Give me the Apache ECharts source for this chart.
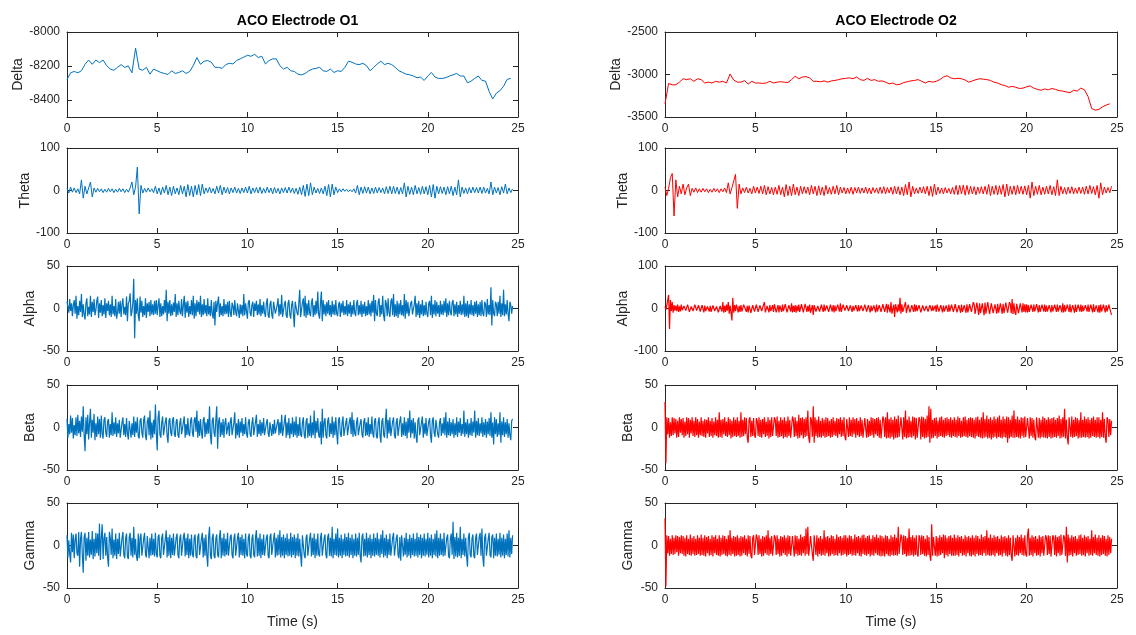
<!DOCTYPE html>
<html>
<head>
<meta charset="utf-8">
<script src="https://cdn.jsdelivr.net/npm/echarts@6/dist/echarts.min.js"></script>
<style>
html,body{margin:0;padding:0;background:#ffffff;}
#chart{width:1136px;height:635px;}
</style>
</head>
<body>
<div id="chart"></div>
<script>
// Sampling steps (seconds between stored samples)
const deltaStep = 0.2;
const thetaStep = 0.1;
const denseStep = 0.05;

const electrodeTitles = ['ACO Electrode O1', 'ACO Electrode O2'];
const bandNames = ['Delta', 'Theta', 'Alpha', 'Beta', 'Gamma'];
const timeTicks = [0, 5, 10, 15, 20, 25];

// Tick labels per panel
const deltaO1Ticks = [-8400, -8200, -8000];
const deltaO2Ticks = [-3500, -3000, -2500];
const ticks100 = [-100, 0, 100];
const ticks50 = [-50, 0, 50];

// ---- Electrode O1 ----
const deltaO1 = [
  -8280,-8240,-8232,-8240,-8228,-8190,-8165,-8190,-8165,-8180,
  -8165,-8198,-8218,-8225,-8208,-8192,-8208,-8200,-8240,-8095,
  -8218,-8225,-8208,-8248,-8218,-8228,-8238,-8244,-8250,-8228,
  -8244,-8238,-8228,-8244,-8232,-8198,-8150,-8190,-8172,-8168,
  -8178,-8208,-8208,-8214,-8192,-8184,-8188,-8168,-8158,-8148,
  -8137,-8143,-8131,-8150,-8143,-8188,-8168,-8158,-8158,-8198,
  -8218,-8208,-8228,-8232,-8248,-8252,-8244,-8228,-8218,-8214,
  -8208,-8228,-8232,-8218,-8238,-8228,-8232,-8208,-8172,-8178,
  -8188,-8192,-8184,-8198,-8228,-8208,-8188,-8172,-8192,-8184,
  -8192,-8208,-8228,-8238,-8248,-8252,-8259,-8269,-8265,-8285,
  -8259,-8238,-8265,-8273,-8273,-8269,-8259,-8252,-8244,-8259,
  -8259,-8299,-8289,-8273,-8259,-8285,-8289,-8350,-8394,-8360,
  -8345,-8319,-8279,-8273
];
const thetaO1 = [
  5,-6,8,-4,6,-5,4,-8,25,-18,
  10,-8,6,20,-15,6,-4,5,-3,4,
  -5,3,-4,5,-3,4,-5,3,-4,5,
  -3,4,-5,3,-4,6,20,-10,8,55,
  -55,12,-6,5,-4,6,-3,4,-5,10,
  -8,6,-10,8,-6,12,-10,8,-12,10,
  -8,6,-10,12,-8,10,-15,14,-12,10,
  -15,12,-10,14,-12,15,-8,6,-5,8,
  -6,5,-8,10,-6,12,-10,8,-6,7,
  -8,6,-5,8,-6,5,-7,6,-5,8,
  -6,10,-8,6,-5,7,-6,8,-7,5,
  -6,8,-5,6,-8,7,-6,5,-8,6,
  -5,7,-6,8,-5,6,-7,5,-9,8,
  -10,12,-14,15,-12,18,-10,8,-6,5,
  -7,6,-8,10,-12,14,-15,15,-10,8,
  -5,4,-3,4,-2,3,-3,2,-3,4,
  -6,12,-10,8,-7,9,-6,8,-8,6,
  -7,8,-6,7,-5,6,-8,9,-7,10,
  -8,10,-7,8,-9,7,-8,18,-15,10,
  -9,8,-10,12,-8,7,-9,10,-8,9,
  -10,12,-15,14,-18,10,-8,9,-7,8,
  -10,9,-8,10,-12,8,-10,25,-15,8,
  -7,6,-8,7,-6,8,-5,7,-6,8,
  -7,8,-6,5,-8,20,-10,8,-6,7,
  -10,9,-6,15,-8,6,-5,4
];
const alphaO1 = [
  8,2,-5,11,-3,6,-9,4,10,-6,15,-12,3,-8,9,-4,17,-10,5,-7,
  -13,6,12,-9,2,-7,15,-10,8,-4,11,-8,-2,9,14,-11,6,-5,10,-9,
  4,-7,12,-11,6,-3,9,-8,5,-10,15,-7,3,-9,11,-12,-5,8,-6,9,
  -10,5,12,-7,2,-8,14,-15,6,9,18,-9,-4,7,35,-35,10,-6,12,-8,
  -15,14,-5,9,-10,3,-8,12,-11,6,-4,8,-9,10,-7,5,-8,9,-6,10,
  -8,4,12,-10,6,-9,3,-7,10,-5,22,-15,8,-6,10,-9,5,-8,7,-4,
  17,-10,6,-8,9,-3,-7,11,-9,4,15,-11,8,-5,9,-10,3,-7,10,-8,
  15,-12,6,-9,10,-4,8,-7,15,-10,5,-8,11,-6,4,-9,12,-7,3,-9,
  10,-6,-12,8,-20,9,-4,7,14,-10,6,-8,3,-9,11,-7,5,-6,8,-10,
  9,-5,-10,7,3,-8,10,-4,-9,6,8,-11,5,-7,4,-9,17,-8,6,-3,
  -12,7,10,-5,-9,4,8,-10,6,-3,9,-8,5,-7,11,-9,4,-6,8,-5,
  -10,6,12,-8,-11,5,9,-7,-12,8,10,-6,-8,4,12,-9,5,-7,16,-10,
  -10,5,9,-8,-11,6,10,-7,-12,4,9,-6,-22,8,10,-5,-8,6,22,-10,
  -10,7,12,-9,15,-11,6,-8,10,-5,-9,7,12,-10,4,-8,9,-6,20,-7,
  -12,6,20,-15,10,-7,5,-9,8,-6,10,-8,4,-10,9,-7,5,-8,10,-6,
  -9,4,8,-10,6,-5,9,-8,3,-7,10,-9,5,-6,8,-10,4,-7,10,-5,
  -9,6,10,-8,4,-7,9,-10,5,-6,8,-9,3,-8,10,-7,6,-9,9,-5,
  16,-15,10,-6,-9,8,12,-10,4,-7,15,-8,-15,10,6,-9,12,-5,-10,8,
  12,-8,17,-10,5,-9,9,-11,6,-7,10,-8,4,-9,17,-12,10,-6,8,-9,
  -10,6,9,-7,-8,5,15,-10,6,-8,9,-11,5,-7,10,-9,4,-8,8,-6,
  -10,6,9,-8,15,-11,5,-7,10,-9,8,-6,4,-10,9,-7,5,-8,9,-5,
  12,-10,6,-8,9,-4,-8,7,10,-9,5,-7,8,-10,4,-6,9,-8,5,-7,
  15,-10,6,-9,9,-11,5,-7,10,-8,4,-9,8,-6,9,-10,5,-8,8,-9,
  10,-6,-9,8,5,-10,11,-7,4,-8,25,-20,10,-6,-9,8,5,-9,8,-6,
  15,-10,6,-8,22,-9,5,-7,10,-6,-15,8,4,-6,3
];
const betaO1 = [
  10,-12,4,-8,14,-6,11,-13,3,-9,12,-10,15,-7,8,-11,13,-5,25,-9,
  -28,12,-8,15,-14,6,22,-12,9,-6,16,-15,5,-11,13,-8,10,-12,14,-7,
  -13,9,12,-6,-11,7,10,-12,4,-9,18,-10,6,-8,12,-11,5,-7,9,-12,
  -10,6,12,-9,4,-11,11,-7,-14,8,10,-12,5,-9,13,-11,7,-6,12,-10,
  -13,8,11,-6,-12,9,14,-10,-15,7,12,-9,20,-14,6,-12,9,-8,27,-6,
  -27,12,20,-8,-12,6,13,-9,-11,7,12,-10,-18,8,11,-6,-10,9,12,-8,
  -11,7,10,-9,-12,5,11,-8,-10,6,13,-12,4,-9,11,-7,-10,8,12,-6,
  -11,9,12,-5,20,-12,8,-10,10,-6,-13,9,12,-11,6,-8,10,-7,25,-9,
  -20,8,12,-6,-11,9,25,-25,7,12,-11,6,-9,10,-12,5,11,-8,-10,6,
  -10,7,12,-9,-11,6,18,-13,5,-9,10,-12,7,-6,11,-10,4,-8,12,-7,
  -12,6,10,-8,-11,5,12,-9,-10,7,15,-11,4,-8,9,-10,6,-7,11,-9,
  -9,5,10,-7,-11,6,8,-10,4,-8,9,-7,-8,5,10,-9,6,-7,15,-10,
  -10,7,15,-12,6,-9,11,-13,5,-8,12,-11,7,-9,13,-12,4,-10,12,-8,
  -11,6,12,-9,-13,7,11,-12,5,-10,14,-12,6,-9,20,-13,8,-6,11,-9,
  -12,7,-20,22,-12,6,11,-9,-13,8,12,-11,5,-8,13,-12,7,-9,12,-6,
  -20,9,12,-7,-11,6,13,-10,-12,5,11,-9,-10,7,12,-8,18,-11,9,-7,
  -10,6,12,-9,-11,5,10,-8,-12,7,11,-10,6,-9,12,-11,4,-8,13,-7,
  -12,8,11,-10,-13,6,12,-9,-18,7,11,-8,-12,6,22,-13,9,-7,12,-10,
  -11,7,12,-9,-13,6,11,-10,-12,8,13,-11,5,-9,12,-10,7,-13,11,-6,
  20,-12,9,-7,11,-13,6,-10,-18,8,12,-9,-11,6,13,-12,5,-8,11,-10,
  -12,7,11,-9,-18,8,12,-6,-11,9,10,-8,-12,6,11,-10,5,-7,12,-9,
  18,-12,7,-9,11,-10,6,-8,10,-12,5,-9,12,-11,7,-6,11,-10,4,-8,
  20,-11,6,-8,10,-12,5,-9,11,-10,7,-6,20,-12,8,-9,11,-10,5,-7,
  12,-11,6,-9,10,-12,7,-8,11,-10,18,-12,6,-20,12,-8,10,-11,5,-9,
  18,-18,7,-9,12,-11,6,-8,10,-12,5,-9,-15,8,10
];
const gammaO1 = [
  12,-14,6,-10,-20,15,-8,13,-15,7,14,-9,-12,16,-25,8,16,-11,-32,10,
  15,-18,9,-12,16,-14,7,-11,17,-16,8,-13,15,-9,14,-12,26,-17,9,25,
  -16,8,15,-12,10,-14,-25,16,9,-11,20,-15,7,-12,14,-16,8,-10,15,-13,
  -14,9,16,-11,-15,8,14,-13,-16,10,15,-12,9,-14,22,-11,8,-13,-18,14,
  -15,9,14,-12,-13,8,15,-10,-14,11,13,-15,9,-12,14,-11,8,-13,15,-10,
  -14,10,13,-12,-15,9,14,-11,-13,8,18,-14,10,-12,13,-15,9,-11,14,-12,
  -13,9,14,-11,-15,8,13,-12,-14,10,15,-13,9,-11,14,-15,8,-12,13,-10,
  -14,9,13,-12,-15,10,14,-11,-13,8,15,-14,9,-12,13,-11,-25,10,22,-12,
  -16,9,14,-12,-15,8,13,-11,-14,10,18,-15,9,-12,14,-13,8,-11,15,-12,
  -14,10,13,-11,-15,8,14,-12,-13,9,15,-14,10,-11,13,-12,8,-15,14,-10,
  -13,9,14,-12,-15,8,13,-11,-14,10,18,-13,9,-12,14,-15,8,-11,13,-12,
  -14,9,13,-12,-15,10,14,-11,-13,8,15,-14,9,-12,13,-11,18,-14,10,-12,
  13,-15,9,-11,14,-13,8,-12,15,-14,10,-11,13,-15,9,-12,14,-13,8,-11,
  -25,12,14,-11,-15,9,13,-12,-14,8,15,-13,9,-11,14,-15,8,-12,14,-10,
  -13,9,15,-12,-14,8,13,-11,-15,10,14,-12,9,-13,22,-15,8,-11,14,-12,
  20,-14,9,-12,13,-15,8,-11,14,-13,10,-12,15,-14,9,-11,13,-15,8,-12,
  14,-13,9,-11,15,-12,-20,10,14,-13,8,-12,15,-14,9,-11,13,-15,8,-12,
  14,-13,9,-11,15,-12,8,-14,13,-10,18,-14,9,-12,13,-15,8,-11,14,-12,
  -13,9,15,-12,-14,8,13,-11,-15,10,-18,12,14,-13,9,-11,15,-14,8,-12,
  13,-15,9,-11,14,-13,8,-12,15,-14,10,-11,13,-15,9,-12,14,-13,8,-11,
  15,-14,9,-12,13,-15,8,-11,14,-13,18,-15,9,-12,14,-11,8,-13,15,-12,
  -14,9,13,-12,-15,8,14,-11,28,-16,10,-13,15,-14,9,-12,22,-15,8,-11,
  14,-13,9,-12,-25,10,15,-11,-14,8,13,-12,-15,9,14,-11,-13,10,15,-12,
  20,-14,-25,9,14,-12,-13,8,15,-11,-14,10,13,-15,9,-12,14,-13,8,-11,
  15,-14,9,-12,13,-15,8,-11,14,-13,18,-14,9,-10,12
];

// ---- Electrode O2 ----
const deltaO2 = [
  -3345,-3105,-3122,-3120,-3090,-3050,-3060,-3050,-3080,-3050,
  -3060,-3100,-3090,-3100,-3080,-3090,-3080,-3100,-2995,-3065,
  -3090,-3090,-3072,-3112,-3080,-3100,-3100,-3105,-3100,-3080,
  -3100,-3090,-3085,-3090,-3095,-3060,-3020,-3050,-3030,-3025,
  -3040,-3080,-3080,-3085,-3075,-3090,-3075,-3070,-3060,-3050,
  -3045,-3040,-3050,-3030,-3060,-3070,-3045,-3070,-3060,-3080,
  -3075,-3090,-3110,-3100,-3120,-3115,-3095,-3085,-3075,-3070,
  -3060,-3080,-3100,-3080,-3090,-3080,-3060,-3030,-3015,-3040,
  -3050,-3045,-3050,-3065,-3090,-3075,-3060,-3050,-3055,-3060,
  -3070,-3090,-3100,-3120,-3130,-3150,-3140,-3150,-3165,-3160,
  -3145,-3135,-3160,-3175,-3185,-3170,-3180,-3165,-3175,-3190,
  -3195,-3205,-3215,-3185,-3195,-3160,-3180,-3260,-3400,-3420,
  -3410,-3380,-3360,-3345
];
const thetaO2 = [
  8,-12,5,30,40,-60,25,-15,10,-8,
  15,-10,6,15,-12,5,-4,6,-5,4,
  -4,5,-3,4,-5,3,-4,5,-3,4,
  -5,4,-3,6,-5,18,-8,6,10,38,
  -42,15,-8,6,-5,8,-6,5,-8,10,
  -6,8,-7,10,-8,12,-10,9,-8,7,
  -10,8,-9,12,-10,8,-15,14,-12,10,
  -12,15,-10,8,-12,10,-8,9,-7,8,
  -10,12,-8,10,-12,11,-10,8,-12,12,
  -8,7,-9,10,-8,12,-10,8,-6,7,
  -8,6,-7,8,-9,7,-6,8,-7,6,
  -6,8,-7,6,-8,7,-5,6,-7,8,
  -7,9,-8,7,-6,8,-9,10,-8,9,
  -10,8,-12,14,-10,20,-15,10,-8,6,
  -7,8,-6,9,-8,10,-12,10,-14,15,
  -10,8,-7,6,-8,7,-6,5,-8,7,
  -9,12,-10,12,-8,13,-11,12,-9,10,
  -8,9,-10,8,-7,9,-8,10,-9,14,
  -12,10,-9,12,-10,11,-9,14,-15,15,
  -12,10,-9,11,-10,12,-8,10,-9,11,
  -10,12,-18,20,-12,10,-9,12,-10,8,
  -9,10,-8,12,-10,9,-12,25,-12,10,
  -8,7,-9,8,-7,9,-8,6,-7,8,
  -7,8,-9,10,-8,12,-7,9,-10,12,
  -18,18,-10,8,-6,7,-5,10
];
const alphaO2 = [
  5,-3,8,10,32,-48,20,-6,15,-10,8,-5,7,-6,9,-8,5,-7,9,-4,
  -8,6,10,-5,-7,9,6,-8,-9,5,8,-6,-7,9,7,-5,-9,8,6,-7,
  -6,8,5,-9,7,-6,-8,5,9,-7,6,-8,-5,7,9,-6,-8,5,7,-9,
  -9,6,8,-7,15,-10,6,-8,9,-5,15,-12,7,-9,-28,25,-10,8,-6,9,
  12,-9,6,-8,8,-7,-6,9,10,12,-8,6,-9,7,8,-10,-6,8,9,-7,
  -7,9,6,-8,-9,7,10,-6,-8,9,15,-9,-8,6,7,-9,8,-6,-7,8,
  -8,10,7,-9,-6,8,-9,7,10,-8,9,-6,-8,10,7,-9,-6,8,9,-7,
  12,-9,6,-8,8,-10,7,-6,9,-8,-7,10,8,-9,-6,11,10,-8,6,-7,
  9,-10,-6,8,-15,8,10,-7,-9,6,8,-7,-6,9,7,-8,9,-6,-8,7,
  7,-8,-5,9,6,-7,8,-9,7,-6,-8,9,6,-7,12,-8,-6,9,7,-5,
  -7,8,6,-6,-5,7,8,-8,6,-5,-7,8,6,-7,8,-6,-5,7,6,-6,
  -8,9,7,-7,-6,8,9,-9,7,-6,-8,7,6,-9,9,-7,-6,8,10,-8,
  -9,10,8,-8,-7,11,-10,9,8,-9,15,-12,-8,9,-20,10,8,-9,10,-7,
  25,-12,10,-8,-9,7,15,-10,-8,9,10,-9,-7,8,9,-8,10,-7,8,-6,
  -7,8,6,-9,-6,7,8,-6,-8,6,7,-7,-5,8,6,-6,7,-5,-6,7,
  -8,9,6,-7,-6,8,9,-9,7,-7,-8,7,6,-8,9,-7,-7,9,6,-8,
  -8,10,7,-9,-8,8,10,-10,9,-8,-9,8,7,-10,10,-9,-8,10,8,-8,
  -12,15,10,-13,-11,14,13,-15,12,-11,-14,12,13,-16,14,-12,-13,15,12,-13,
  -10,12,11,-11,-12,10,12,-12,11,-10,-11,12,10,-12,11,-11,-12,14,11,-10,
  -12,15,10,-11,22,-13,12,-9,-15,11,10,-11,-10,12,9,-9,12,-8,10,-9,
  10,-9,8,-8,-10,9,7,-8,9,-7,-8,10,9,-9,8,-8,-7,9,8,-7,
  9,-8,7,-7,-9,8,6,-9,8,-7,-7,9,8,-8,9,-7,-6,8,7,-9,
  12,-9,8,-7,-10,9,8,-8,10,-9,-9,8,7,-10,9,-8,-7,9,8,-7,
  9,-8,7,-6,-9,8,7,-7,9,-8,-7,9,8,-9,10,-8,-9,7,8,-9,
  8,-10,9,-7,-8,9,10,-9,8,-7,-8,9,7,-8,-15
];
const betaO2 = [
  30,-42,12,-8,11,-12,6,-10,12,-9,11,-7,10,-12,8,-11,12,-6,10,-9,
  11,-12,7,-10,12,-8,11,-12,9,-7,12,-10,8,-11,12,-9,10,-12,7,-9,
  12,-10,8,-11,10,-12,9,-7,12,-11,8,-10,11,-12,7,-9,12,-10,9,-12,
  18,-11,9,-12,10,-8,12,-10,7,-11,12,-9,10,-13,8,-11,12,-10,9,-11,
  12,-10,8,-12,18,-11,9,-10,12,-8,11,-12,-18,9,12,-11,8,-10,11,-9,
  -12,11,8,-10,12,-11,9,-12,10,-8,12,-11,7,-10,12,-13,9,-11,12,-10,
  -11,12,9,-10,13,-12,8,-11,12,-10,9,-13,12,-11,8,-12,13,-10,9,-12,
  -12,13,9,-11,12,-10,8,-13,15,-12,11,-9,12,-13,10,-11,12,-10,20,-12,
  -18,12,9,-11,25,-18,12,-10,9,-12,13,-11,8,-12,11,-10,9,-12,12,-11,
  11,-10,8,-12,10,-11,12,-9,8,-10,11,-12,10,-8,12,-11,9,-10,12,-11,
  -15,10,8,-11,12,-10,9,-11,12,-8,10,-12,11,-9,8,-11,12,-10,9,-12,
  -10,11,9,-12,10,-11,8,-10,12,-9,11,-12,10,-8,11,-10,12,-12,9,-13,
  -12,13,9,-11,12,-13,18,-12,10,-13,12,-11,9,-14,13,-12,10,-12,14,-11,
  -13,12,10,-14,12,-11,20,-13,9,-12,13,-11,8,-12,13,-10,12,-14,11,-12,
  -13,12,9,-14,13,-11,12,-13,10,-12,14,-11,25,-18,22,-13,9,-12,11,-10,
  12,-13,8,-11,12,-10,13,-11,9,-12,11,-10,12,-9,10,-11,12,-12,9,-10,
  12,-11,9,-12,13,-10,11,-12,8,-11,12,-10,13,-11,9,-12,11,-10,12,-11,
  11,-12,9,-13,12,-10,13,-11,9,-12,12,-13,18,-12,10,-11,14,-13,10,-12,
  12,-14,9,-12,13,-11,10,-13,12,-11,14,-12,9,-13,13,-11,10,-12,13,-18,
  12,-13,9,-11,14,-12,20,-12,10,-11,13,-12,9,-13,12,-10,11,-12,13,-11,
  -12,11,9,-13,12,-10,11,-12,9,-11,-15,12,10,-12,11,-13,9,-11,13,-12,
  11,-12,9,-13,12,-11,10,-13,11,-12,12,-11,9,-12,11,-10,14,-13,10,-12,
  12,-11,22,-13,9,-12,-20,12,10,-11,13,-12,9,-11,12,-10,11,-13,9,-12,
  18,-12,9,-11,13,-12,10,-11,12,-13,9,-12,11,-10,13,-11,9,-12,12,-11,
  12,-13,9,-11,18,-12,10,-11,-18,12,9,-11,10,-9,8
];
const gammaO2 = [
  32,-48,12,-9,11,-12,8,-10,12,-11,9,-10,12,-8,11,-12,10,-9,12,-10,
  11,-12,9,-13,12,-10,8,-11,13,-12,9,-10,11,-12,8,-11,12,-10,9,-12,
  13,-11,9,-12,12,-13,10,-9,11,-12,8,-11,12,-13,10,-9,12,-11,8,-12,
  12,-13,9,-11,12,-10,11,-12,8,-13,12,-11,18,-12,9,-10,11,-13,10,-12,
  12,-11,9,-13,11,-12,10,-9,12,-11,8,-13,12,-10,11,-12,-15,9,12,-11,
  -12,13,9,-11,12,-10,8,-13,11,-12,10,-9,12,-11,18,-12,9,-10,11,-12,
  -13,12,9,-11,12,-10,8,-13,11,-12,10,-9,12,-11,9,-13,12,-10,11,-12,
  -12,11,9,-13,12,-10,11,-12,8,-11,13,-12,10,-9,11,-12,20,-10,22,-12,
  -12,11,9,-10,-18,12,10,-11,12,-13,9,-10,11,-12,8,-11,18,-12,10,-9,
  11,-13,9,-12,12,-10,11,-12,8,-11,13,-12,10,-9,11,-12,9,-11,12,-10,
  12,-13,9,-11,12,-10,11,-12,8,-11,13,-12,10,-9,11,-12,9,-13,12,-10,
  13,-11,9,-12,11,-10,12,-13,8,-11,12,-12,10,-9,13,-11,9,-12,12,-13,
  11,-12,9,-13,12,-10,11,-12,8,-13,12,-11,10,-12,13,-11,9,-12,22,-10,
  -12,13,9,-11,12,-10,11,-13,9,-12,20,-12,10,-11,12,-13,9,-11,12,-10,
  -13,12,9,-11,12,-10,11,-12,8,-13,12,-11,10,-12,-18,25,-12,10,9,-12,
  11,-13,9,-12,12,-11,10,-9,13,-15,12,-11,9,-13,11,-10,12,-12,9,-12,
  13,-12,9,-11,12,-13,10,-9,11,-12,8,-11,12,-13,10,-9,11,-12,9,-13,
  12,-11,9,-13,12,-10,11,-12,8,-11,13,-12,10,-9,11,-12,18,-11,9,-12,
  13,-12,9,-11,12,-13,10,-9,11,-12,8,-11,12,-13,10,-9,11,-12,9,-13,
  12,-11,9,-12,-18,12,10,-13,9,-11,12,-12,10,-9,13,-11,9,-12,12,-10,
  -13,12,20,-12,9,-11,12,-13,10,-9,11,-12,8,-11,12,-13,10,-9,11,-12,
  -13,12,9,-11,12,-10,11,-13,-15,12,9,-11,12,-13,10,-9,11,-12,13,-11,
  -11,12,9,-12,22,-20,13,-12,9,-11,12,-13,10,-9,11,-12,8,-11,12,-10,
  13,-12,9,-11,12,-13,10,-9,11,-12,8,-11,18,-12,10,-9,13,-11,9,-12,
  12,-13,9,-11,12,-10,11,-12,8,-13,12,-11,10,-9,8
];

// Panel definitions: one per (band, electrode)
const panels = [
  { col: 0, row: 0, values: deltaO1, step: deltaStep, range: [-8500, -8000], ticks: deltaO1Ticks, nameGap: 42 },
  { col: 0, row: 1, values: thetaO1, step: thetaStep, range: [-100, 100], ticks: ticks100, nameGap: 35 },
  { col: 0, row: 2, values: alphaO1, step: denseStep, range: [-50, 50], ticks: ticks50, nameGap: 30 },
  { col: 0, row: 3, values: betaO1, step: denseStep, range: [-50, 50], ticks: ticks50, nameGap: 30 },
  { col: 0, row: 4, values: gammaO1, step: denseStep, range: [-50, 50], ticks: ticks50, nameGap: 30 },
  { col: 1, row: 0, values: deltaO2, step: deltaStep, range: [-3500, -2500], ticks: deltaO2Ticks, nameGap: 42 },
  { col: 1, row: 1, values: thetaO2, step: thetaStep, range: [-100, 100], ticks: ticks100, nameGap: 35 },
  { col: 1, row: 2, values: alphaO2, step: denseStep, range: [-100, 100], ticks: ticks100, nameGap: 35 },
  { col: 1, row: 3, values: betaO2, step: denseStep, range: [-50, 50], ticks: ticks50, nameGap: 30 },
  { col: 1, row: 4, values: gammaO2, step: denseStep, range: [-50, 50], ticks: ticks50, nameGap: 30 }
];

const lineColors = ['#0072BD', '#FF0000'];
const inkColor = '#262626';
const fontFamily = '"Liberation Sans", Arial, Helvetica, sans-serif';

const colLeft = [67, 665];
const colWidth = [451, 452];
const rowTop = [32, 148, 266, 385, 503];
const rowHeight = 85;

function toPairs(values, step) {
  return values.map((v, i) => [Math.round(i * step * 100) / 100, v]);
}

function axisCommon(tickValues, showLabels) {
  return {
    axisLine: { show: true, onZero: false, lineStyle: { color: inkColor, width: 1 } },
    axisTick: { show: true, inside: true, length: 5, customValues: tickValues, lineStyle: { color: inkColor, width: 1 } },
    axisLabel: {
      show: showLabels, customValues: tickValues, color: inkColor, fontSize: 12, fontFamily: fontFamily,
      formatter: v => String(v)
    },
    splitLine: { show: false }
  };
}

const grids = [], xAxes = [], yAxes = [], series = [];
panels.forEach((p, k) => {
  grids.push({ left: colLeft[p.col], top: rowTop[p.row], width: colWidth[p.col], height: rowHeight, containLabel: false });

  const xBottom = Object.assign({ type: 'value', gridIndex: k, position: 'bottom', min: 0, max: 25 }, axisCommon(timeTicks, true));
  xBottom.axisLabel.margin = 6;
  if (p.row === 4) {
    xBottom.name = 'Time (s)';
    xBottom.nameLocation = 'middle';
    xBottom.nameGap = 27;
    xBottom.nameTextStyle = { color: inkColor, fontSize: 14, fontFamily: fontFamily };
  }
  const xTop = Object.assign({ type: 'value', gridIndex: k, position: 'top', min: 0, max: 25 }, axisCommon(timeTicks, false));
  xAxes.push(xBottom, xTop);

  const yLeft = Object.assign({ type: 'value', gridIndex: k, position: 'left', min: p.range[0], max: p.range[1],
    name: bandNames[p.row], nameLocation: 'middle', nameGap: p.nameGap, nameRotate: 90,
    nameTextStyle: { color: inkColor, fontSize: 14, fontFamily: fontFamily } }, axisCommon(p.ticks, true));
  yLeft.axisLabel.margin = 7;
  const yRight = Object.assign({ type: 'value', gridIndex: k, position: 'right', min: p.range[0], max: p.range[1] }, axisCommon(p.ticks, false));
  yAxes.push(yLeft, yRight);

  series.push({
    type: 'line',
    xAxisIndex: 2 * k,
    yAxisIndex: 2 * k,
    data: toPairs(p.values, p.step),
    showSymbol: false,
    symbol: 'none',
    clip: true,
    lineStyle: { color: lineColors[p.col], width: p.row <= 1 ? 1 : 1.2 },
    itemStyle: { color: lineColors[p.col] },
    emphasis: { disabled: true }
  });
});

const titles = electrodeTitles.map((t, c) => ({
  text: t,
  left: colLeft[c] + colWidth[c] / 2,
  top: 9,
  textAlign: 'center',
  textStyle: { color: '#000000', fontSize: 14, fontWeight: 'bold', fontFamily: fontFamily }
}));

const chart = echarts.init(document.getElementById('chart'), null, { renderer: 'canvas' });
chart.setOption({
  backgroundColor: '#ffffff',
  animation: false,
  title: titles,
  grid: grids,
  xAxis: xAxes,
  yAxis: yAxes,
  series: series
});
</script>
</body>
</html>
